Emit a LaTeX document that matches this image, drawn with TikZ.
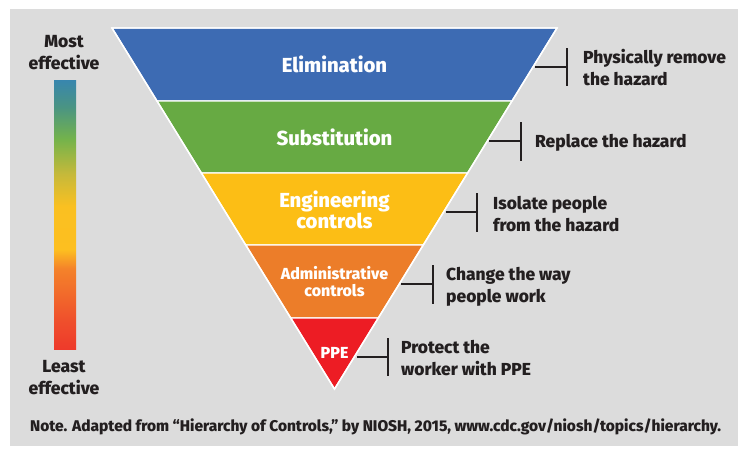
\documentclass[tikz,border=0pt]{standalone}
\usepackage{fontspec}
\setmainfont{Fira Sans}[BoldFont={Fira Sans ExtraBold}]
\usetikzlibrary{calc}

\definecolor{panel}{HTML}{DCDCDC}
\definecolor{ink}{HTML}{231F20}
\definecolor{elimc}{HTML}{3D6BB3}
\definecolor{substc}{HTML}{67AA43}
\definecolor{engc}{HTML}{FCBE15}
\definecolor{adminc}{HTML}{EC7D29}
\definecolor{ppec}{HTML}{ED1C24}

\definecolor{bar0}{HTML}{EE3A2B}
\definecolor{bar1}{HTML}{EF4E2C}
\definecolor{bar2}{HTML}{F4832A}
\definecolor{bar3}{HTML}{FDBF20}
\definecolor{bar4}{HTML}{FAC021}
\definecolor{bar5}{HTML}{C6B93A}
\definecolor{bar6}{HTML}{74B34B}
\definecolor{bar7}{HTML}{4A9483}
\definecolor{bar8}{HTML}{3886AE}

% effectiveness scale, red (bottom) to blue (top)
\pgfdeclareverticalshading{effscale}{100bp}{%
  color(0bp)=(bar0); color(25bp)=(bar0); color(30bp)=(bar1);
  color(40bp)=(bar2); color(43.5bp)=(bar3); color(51.5bp)=(bar4);
  color(57.5bp)=(bar5); color(64bp)=(bar6); color(70bp)=(bar7);
  color(75bp)=(bar8); color(100bp)=(bar8)}

\tikzset{
  band/.style={fill=#1, draw=white, line width=1.4pt, line join=miter},
  bandlabel/.style={text=white, font=\bfseries\fontsize{20.3}{21}\selectfont, align=center, inner sep=0pt},
  sidelabel/.style={text=ink, font=\bfseries\fontsize{17.4}{22}\selectfont, align=left, anchor=west, inner sep=0pt},
  scalelabel/.style={text=ink, font=\bfseries\fontsize{17.5}{22}\selectfont, align=center, inner sep=0pt},
  bracket/.style={draw=ink, line width=1.5pt},
}

\begin{document}
\begin{tikzpicture}[x=1pt, y=-1pt]
  \useasboundingbox (0,0) rectangle (738,455);
  \fill[white] (0,0) rectangle (738,455);
  \fill[panel] (10,8.5) rectangle (738,446);

  % scale bar
  \shade[shading=effscale] (54,80) rectangle (76,349);
  \node[scalelabel] (most) at (64,53) {Most\\effective};
  \node[scalelabel] (least) at (64,378) {Least\\effective};

  % inverted pyramid
  \fill[band=elimc]  (112,28) -- (557,28) -- (512,101) -- (157,101) -- cycle;
  \fill[band=substc] (157,101) -- (512,101) -- (467.6,173) -- (201.4,173) -- cycle;
  \fill[band=engc]   (201.4,173) -- (467.6,173) -- (423.3,245) -- (245.7,245) -- cycle;
  \fill[band=adminc] (245.7,245) -- (423.3,245) -- (378.3,318) -- (290.7,318) -- cycle;
  \fill[band=ppec]   (290.7,318) -- (378.3,318) -- (334.5,389) -- cycle;
  \draw[white, line width=1.4pt, line join=miter] (112,28) -- (557,28) -- (334.5,389) -- cycle;

  \node[bandlabel] (elim) at (334.5,64) {Elimination};
  \node[bandlabel] (subst) at (334.5,137) {Substitution};
  \node[bandlabel] (eng) at (334.5,209.5) {Engineering\\controls};
  \node[bandlabel, font=\bfseries\fontsize{16}{17.5}\selectfont] (admin) at (334.5,281.5) {Administrative\\controls};
  \node[bandlabel, font=\bfseries\fontsize{16}{18}\selectfont] (ppe) at (334.5,353) {PPE};

  % brackets and descriptions
  \coordinate (e1) at (535,67);   \coordinate (b1) at (567,67);
  \coordinate (t1) at (567,48);   \coordinate (u1) at (567,86);
  \coordinate (e2) at (489,141);  \coordinate (b2) at (521,141);
  \coordinate (t2) at (521,122);  \coordinate (u2) at (521,161);
  \coordinate (e3) at (446,212);  \coordinate (b3) at (477,212);
  \coordinate (t3) at (477,193);  \coordinate (u3) at (477,232);
  \coordinate (e4) at (401,284);  \coordinate (b4) at (433,284);
  \coordinate (t4) at (433,265);  \coordinate (u4) at (433,304);
  \coordinate (e5) at (357,357);  \coordinate (b5) at (388,357);
  \coordinate (t5) at (388,338);  \coordinate (u5) at (388,376);

  \foreach \i in {1,...,5} {
    \draw[bracket] (e\i) -- (b\i);
    \draw[bracket] (t\i) -- (u\i);
  }

  \node[sidelabel] (d1) at (583,68) {Physically remove\\the hazard};
  \node[sidelabel] (d2) at (535,143) {Replace the hazard};
  \node[sidelabel] (d3) at (493,214.5) {Isolate people\\from the hazard};
  \node[sidelabel] (d4) at (446,287) {Change the way\\people work};
  \node[sidelabel] (d5) at (401,358.5) {Protect the\\worker with PPE};

  % source note
  \node[text=ink, font=\bfseries\fontsize{15.5}{18}\selectfont, anchor=west, inner sep=0pt] (note) at (30,427)
    {Note. Adapted from “Hierarchy of Controls,” by NIOSH, 2015, www.cdc.gov/niosh/topics/hierarchy.};
\end{tikzpicture}
\end{document}
